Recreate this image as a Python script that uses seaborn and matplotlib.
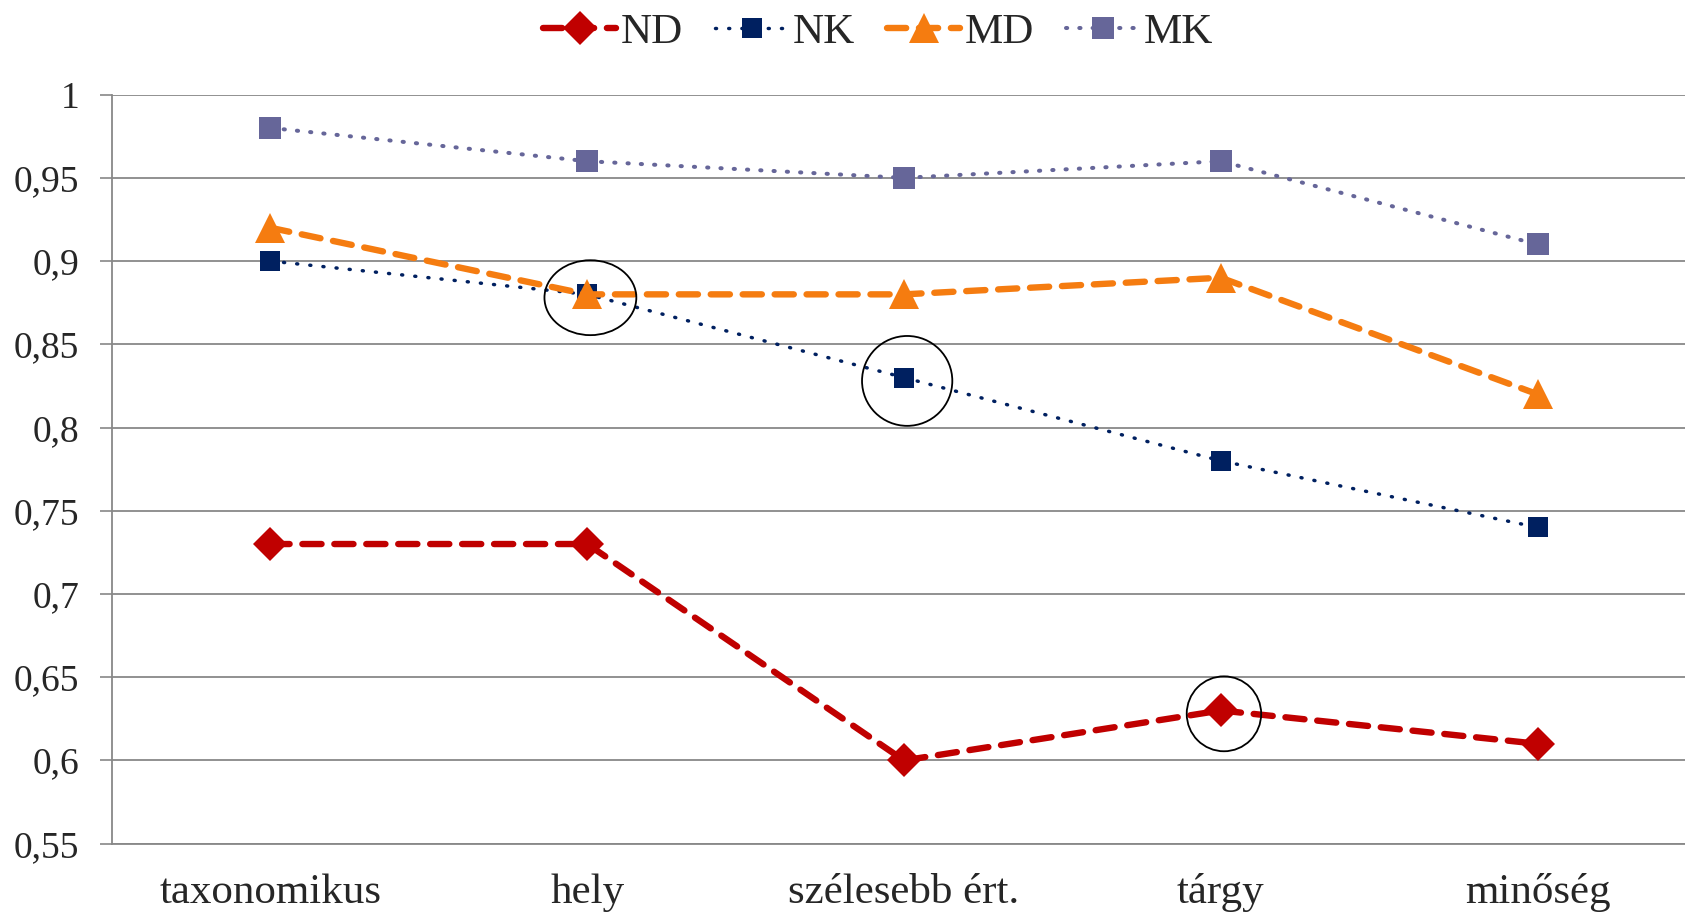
import pandas as pd
import numpy as np
import matplotlib
matplotlib.use("Agg")
import matplotlib.pyplot as plt
import seaborn as sns
from matplotlib.patches import Ellipse

# categories and series
categories = ['taxonomikus', 'hely', 'szélesebb ért.', 'tárgy', 'minőség']
nd = [0.73, 0.73, 0.60, 0.63, 0.61]
nk = [0.90, 0.88, 0.83, 0.78, 0.74]
md = [0.92, 0.88, 0.88, 0.89, 0.82]
mk = [0.98, 0.96, 0.95, 0.96, 0.91]
y_ticks = [0.55, 0.6, 0.65, 0.7, 0.75, 0.8, 0.85, 0.9, 0.95, 1.0]

# circled points: (series, category index)
circled = [('MD', 1), ('NK', 2), ('ND', 3)]

sns.set_style('white')
plt.rcParams['font.family'] = ['Liberation Serif', 'DejaVu Serif']

df = pd.DataFrame({'kat': categories, 'ND': nd, 'NK': nk, 'MD': md, 'MK': mk})

fig = plt.figure(figsize=(16.85, 9.16), dpi=100)
ax = fig.add_axes([0.0665, 0.079, 0.94, 0.8177])

styles = {
    'ND': dict(color='#C00000', marker='D', ms=17, lw=4.6, dashes=(3.0, 2.0)),
    'NK': dict(color='#002060', marker='s', ms=15, lw=2.5, dashes=(0.3, 3.5)),
    'MD': dict(color='#F57C10', marker='^', ms=22, lw=4.6, dashes=(3.0, 2.0)),
    'MK': dict(color='#666699', marker='s', ms=16, lw=2.9, dashes=(0.3, 3.0)),
}

# draw order: back to front as in the original
for name in ['MK', 'NK', 'MD', 'ND']:
    st = styles[name]
    sns.lineplot(data=df, x='kat', y=name, ax=ax, sort=False, label=name,
                 color=st['color'], marker=st['marker'], markersize=st['ms'],
                 markeredgewidth=0, linewidth=st['lw'])
    line = ax.lines[-1]
    line.set_dashes(st['dashes'])
    line.set_dash_capstyle('round')

series = {'ND': nd, 'NK': nk, 'MD': md, 'MK': mk}
sizes = [(0.29, 0.045), (0.285, 0.054), (0.235, 0.045)]
for (name, i), (w, h) in zip(circled, sizes):
    e = Ellipse((i + 0.01, series[name][i] - 0.002), w, h, fill=False,
                edgecolor='black', linewidth=1.3, zorder=10)
    ax.add_patch(e)

ax.set_xlim(-0.5, 4.5)
ax.set_ylim(0.55, 1.0)
ax.set_yticks(y_ticks)
ax.set_yticklabels([f'{v:g}'.replace('.', ',') for v in y_ticks], fontsize=27)
ax.set_xticks(range(len(categories)))
ax.set_xticklabels(categories, fontsize=31)
ax.set_xticks(np.arange(-0.5, 5.0, 1.0), minor=True)
ax.tick_params(axis='x', which='major', length=0, pad=21.5)
ax.tick_params(axis='x', which='minor', length=9.5, width=1.2, color='#888888', direction='out')
ax.tick_params(axis='y', length=8.6, width=1.2, color='#888888', pad=15, left=True)
ax.set_xlabel('')
ax.set_ylabel('')
ax.yaxis.grid(True, color='#888888', linewidth=1.3)
ax.xaxis.grid(False)
for s in ['top', 'right']:
    ax.spines[s].set_visible(False)
for s in ['left', 'bottom']:
    ax.spines[s].set_color('#888888')
    ax.spines[s].set_linewidth(1.3)

handles, labels = ax.get_legend_handles_labels()
order = ['ND', 'NK', 'MD', 'MK']
hmap = dict(zip(labels, handles))
ax.get_legend().remove()
fig.legend([hmap[k] for k in order], order, loc='center',
           bbox_to_anchor=(878 / 1685, 1 - 32 / 916), ncol=4, frameon=False,
           fontsize=31, handlelength=1.7, handletextpad=0.1, columnspacing=0.75)

fig.savefig('out.png', dpi=100)
